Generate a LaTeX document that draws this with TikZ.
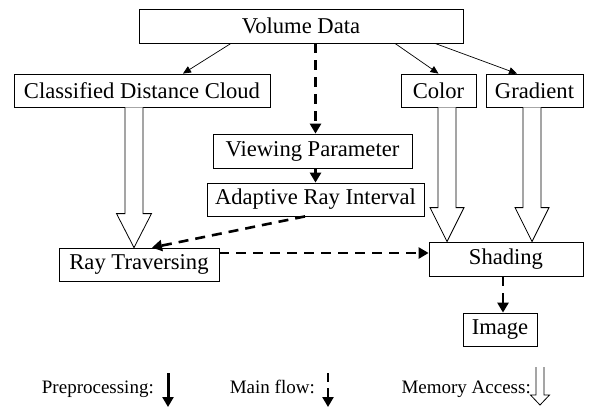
\documentclass[tikz,border=0pt]{standalone}
\usepackage{fontspec}
\setmainfont{Liberation Serif}
\usetikzlibrary{arrows.meta,calc}
\newcommand\memarrow[5]{%
\draw[mem] let \p1=#1, \p2=#2 in
 (\x1-#4pt,\y1)--(\x1-#4pt,\y2+#3pt)--(\x1-#5pt,\y2+#3pt)--(\x1,\y2)
 --(\x1+#5pt,\y2+#3pt)--(\x1+#4pt,\y2+#3pt)--(\x1+#4pt,\y1);}
\begin{document}
\begin{tikzpicture}[x=1pt,y=-1pt,
 box/.style={draw,line width=0.8pt,inner sep=0pt,font=\fontsize{22.6}{26}\selectfont},
 leg/.style={anchor=base east,inner sep=0pt,font=\fontsize{19}{22}\selectfont},
 pre/.style={line width=0.7pt,-{Triangle[length=8pt,width=7pt]}},
 flow/.style={line width=2.6pt,-{Triangle[length=10pt,width=11pt]}},
 main/.style={flow,dash pattern=on 10pt off 7pt},
 mem/.style={draw,line width=0.8pt,fill=white}]
\useasboundingbox(0,0)rectangle(595,408);
\node[box,minimum width=324pt,minimum height=34pt](vol)at(301,26){Volume Data};
\node[box,minimum width=256pt,minimum height=33pt](cdc)at(142,90.5){Classified Distance Cloud};
\node[box,minimum width=75pt,minimum height=33pt](col)at(438.5,90.5){Color};
\node[box,minimum width=97pt,minimum height=33pt](grad)at(534.5,90.5){Gradient};
\node[box,minimum width=199pt,minimum height=34pt](view)at(312.5,151){Viewing Parameter};
\node[box,minimum width=217pt,minimum height=33pt](ari)at(315.5,199.5){Adaptive Ray Interval};
\node[box,minimum width=160pt,minimum height=33pt](ray)at(139,264.5){Ray Traversing};
\node[box,minimum width=154pt,minimum height=34pt](shad)at(506,259){Shading};
\node[box,minimum width=74pt,minimum height=33pt](img)at(500,329.5){Image};
\draw[pre]([xshift=-70pt]vol.south)--([xshift=41pt]cdc.north);
\draw[pre]([xshift=94pt]vol.south)--(col.north);
\draw[pre]([xshift=134pt]vol.south)--([xshift=-17.5pt]grad.north);
\draw[main](vol.south-|ari.north)--(view.north-|ari.north);
\draw[flow](view.south-|ari.north)--(ari.north);
\draw[main]([xshift=-10.5pt]ari.south)--([xshift=13pt]ray.north);
\draw[main]([yshift=11.5pt]ray.east)--([yshift=11.5pt]ray.east-|shad.west);
\draw[main]([xshift=-3pt]shad.south)--([xshift=-3pt]shad.south|-img.north);
\memarrow{([xshift=-8pt]cdc.south)}{([xshift=-5pt]ray.north)}{34}{9}{17.5}
\memarrow{([xshift=8.5pt]col.south)}{([xshift=-59pt]shad.north)}{34}{9}{17}
\memarrow{([xshift=-2.5pt]grad.south)}{([xshift=26pt]shad.north)}{34}{9}{17}
\node[leg](lpre)at(154,393){Preprocessing:};
\node[leg](lmain)at(315,393){Main flow:};
\node[leg](lmem)at(531,393){Memory Access:};
\coordinate(kpre)at(168,373);
\coordinate(kmain)at(328,373);
\coordinate(kmem)at(540,367);
\draw[flow,line width=3pt](kpre)--++(0,34);
\draw[main,dash pattern=on 9pt off 6pt](kmain)--++(0,34);
\memarrow{(kmem)}{($(kmem)+(0,38)$)}{10}{4}{9.5}
\end{tikzpicture}
\end{document}
